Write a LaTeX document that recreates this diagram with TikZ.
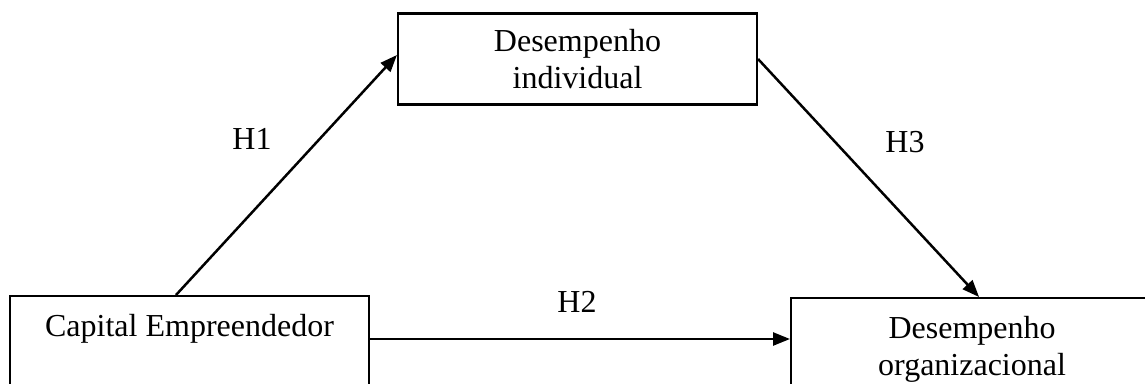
\documentclass[tikz,border=0pt]{standalone}
\usepackage{fontspec}
\setmainfont{Liberation Serif}
\usetikzlibrary{arrows.meta, positioning, calc}

\begin{document}
\begin{tikzpicture}[x=1pt, y=-1pt,
    box/.style={draw, line width=2.1pt, inner sep=0pt, align=center,
                font=\fontsize{32}{37}\selectfont},
    lowbox/.style={box, anchor=north, inner ysep=18pt, text depth=60pt},
    arr/.style={-{Triangle[length=17pt, width=13pt]}, line width=2.5pt},
    lbl/.style={font=\fontsize{32}{37}\selectfont}
  ]
  \useasboundingbox (0,0) rectangle (1145,383);
  \clip (0,0) rectangle (1145,383);
  \node[box, minimum width=359pt, minimum height=91pt] (indiv) at (577.5,59)
    {Desempenho\\individual};
  \node[lowbox, minimum width=359pt] (capital) at (189.5,295)
    {Capital Empreendedor};
  \node[lowbox, anchor=north west, minimum width=362pt] (organ) at (790,297)
    {Desempenho\\organizacional};
  \coordinate (h2start) at ([yshift=-44pt]capital.north east);
  \draw[arr] ([xshift=-13.5pt]capital.north) -- ([yshift=4pt]indiv.west);
  \draw[arr] (indiv.east) -- ([xshift=7pt]organ.north);
  \draw[arr] (h2start) -- (h2start -| organ.west);
  \node[lbl] (h1) at (252,139) {H1};
  \node[lbl] (h2) at (577,302) {H2};
  \node[lbl] (h3) at (905,142) {H3};
\end{tikzpicture}
\end{document}
